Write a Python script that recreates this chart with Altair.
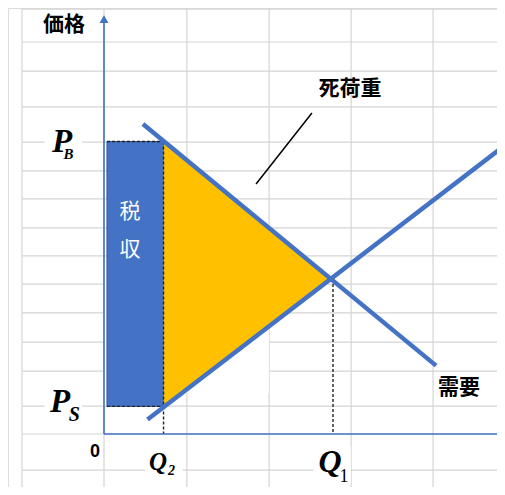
import altair as alt
import pandas as pd

# ---- data (economic units: quantity Q, price P) ----
Q1, P1 = 10.0, 5.33          # equilibrium without tax
Q2 = 2.6                     # quantity with tax
PB, PS = 10.05, 0.95         # buyer / seller price
REV_Q0 = 0.13                # left edge of tax revenue block

demand_q = [1.7, 14.5]
demand_p = [10.65, 2.35]
supply_q = [1.9, 17.8]
supply_p = [0.5, 10.1]

grid_v = [-3.58, 0, 3.62, 7.21, 10.79, 14.37]
grid_h = [14.6, 13.47, 12.47, 11.24, 10.03, 9.04, 8.08, 7.08, 6.12, 5.15,
          4.16, 3.16, 2.16, 0.96, 0, -1.24]

XMIN, XMAX = -4.1921, 17.162
YMIN, YMAX = -1.821, 14.639

BLUE = "#4472C4"
YELLOW = "#FFC000"
GRID = "#d4d4d4"
CJK = "Noto Sans CJK JP"
SERIF = "Liberation Serif"

xs = alt.Scale(domain=[XMIN, XMAX], nice=False, zero=False)
ys = alt.Scale(domain=[YMIN, YMAX], nice=False, zero=False)


def X(f="q"):
    return alt.X(f"{f}:Q", scale=xs, axis=None)


def Y(f="p"):
    return alt.Y(f"{f}:Q", scale=ys, axis=None)


# gridlines (spreadsheet cells)
gv = pd.DataFrame({"q": grid_v, "p0": [14.6] * len(grid_v), "p1": [YMIN] * len(grid_v)})
gh = pd.DataFrame({"p": grid_h, "q0": [-3.58] * len(grid_h), "q1": [XMAX] * len(grid_h)})
grid_v_layer = alt.Chart(gv).mark_rule(color=GRID, strokeWidth=1.2).encode(
    x=X(), y=Y("p0"), y2="p1:Q")
grid_h_layer = alt.Chart(gh).mark_rule(color=GRID, strokeWidth=1.2).encode(
    y=Y(), x=X("q0"), x2="q1:Q")

# white label backgrounds
boxes = pd.DataFrame({"q": [-1.77, -1.77, 2.62, 9.96], "p": [9.86, 0.82, -1.06, -1.06]})
box_layer = alt.Chart(boxes).mark_square(color="white", opacity=1, size=1400).encode(
    x=X(), y=Y())

white_area = alt.Chart(pd.DataFrame({"q0": [0.05], "q1": [7.2], "p0": [1.4], "p1": [5.2]})
                       ).mark_rect(color="white").encode(
    x=X("q0"), x2="q1:Q", y=Y("p0"), y2="p1:Q")

# tax revenue block
rev = alt.Chart(pd.DataFrame({"q0": [REV_Q0], "q1": [Q2], "p0": [PS], "p1": [PB]})
                ).mark_rect(color=BLUE, stroke="#2F5597", strokeWidth=1).encode(
    x=X("q0"), x2="q1:Q", y=Y("p0"), y2="p1:Q")

# deadweight-loss triangle
tri = alt.Chart(pd.DataFrame({"q": [Q2, Q1], "top": [PB, P1], "bot": [PS, P1]})
                ).mark_area(color=YELLOW, opacity=1).encode(
    x=X(), y=Y("top"), y2="bot:Q")

# dashed guides
dash_h = pd.DataFrame({"p": [PB, PS], "q0": [REV_Q0, REV_Q0], "q1": [Q2, Q2]})
dash_v = pd.DataFrame({"q": [Q2, Q1], "p0": [PB, P1], "p1": [0, 0]})
dash_h_layer = alt.Chart(dash_h).mark_rule(color="#222222", strokeWidth=1.4, strokeDash=[3, 2]).encode(
    y=Y(), x=X("q0"), x2="q1:Q")
dash_v_layer = alt.Chart(dash_v).mark_rule(color="#222222", strokeWidth=1.4, strokeDash=[3, 2]).encode(
    x=X(), y=Y("p0"), y2="p1:Q")

# demand & supply
dem = alt.Chart(pd.DataFrame({"q": demand_q, "p": demand_p})).mark_line(
    color=BLUE, strokeWidth=4.5, clip=True).encode(x=X(), y=Y())
sup = alt.Chart(pd.DataFrame({"q": supply_q, "p": supply_p})).mark_line(
    color=BLUE, strokeWidth=4.5, clip=True).encode(x=X(), y=Y())

# axes
xaxis = alt.Chart(pd.DataFrame({"p": [0], "q0": [0], "q1": [XMAX]})).mark_rule(
    color=BLUE, strokeWidth=1.6).encode(y=Y(), x=X("q0"), x2="q1:Q")
yaxis = alt.Chart(pd.DataFrame({"q": [0], "p0": [0], "p1": [14.2]})).mark_rule(
    color=BLUE, strokeWidth=1.6).encode(x=X(), y=Y("p0"), y2="p1:Q")
arrow = alt.Chart(pd.DataFrame({"q": [0], "p": [14.26]})).mark_point(
    shape="triangle-up", filled=True, color=BLUE, opacity=1, size=80).encode(x=X(), y=Y())

# deadweight pointer
pointer = alt.Chart(pd.DataFrame({"q": [6.64, 9.08], "p": [8.59, 11.03]})).mark_line(
    color="black", strokeWidth=1.5).encode(x=X(), y=Y())


def label(text, q, p, size, color="black", font=CJK, weight="bold", style="normal",
          baseline="middle", align="center"):
    return alt.Chart(pd.DataFrame({"q": [q], "p": [p], "t": [text]})).mark_text(
        fontSize=size, color=color, font=font, fontWeight=weight, fontStyle=style,
        baseline=baseline, align=align).encode(x=X(), y=Y(), text="t:N")


labels = [
    label("価格", -1.75, 14.05, 21),
    label("死荷重", 10.74, 11.86, 21),
    label("需要", 15.5, 1.58, 21),
    label("税", 1.14, 7.63, 21, color="white", weight="normal"),
    label("収", 1.14, 6.32, 21, color="white", weight="normal"),
    label("0", -0.39, -0.62, 18, font="Liberation Sans", weight="bold"),
    # P_B
    label("P", -1.83, 9.69, 33, font=SERIF, style="italic", baseline="alphabetic"),
    label("B", -1.55, 9.45, 15, font=SERIF, style="italic", baseline="alphabetic"),
    # P_S
    label("P", -1.92, 0.756, 33, font=SERIF, style="italic", baseline="alphabetic"),
    label("S", -1.30, 0.447, 20, font=SERIF, style="italic", baseline="alphabetic"),
    # Q2
    label("Q", 2.36, -1.237, 25, font=SERIF, style="italic", baseline="alphabetic"),
    label("2", 2.95, -1.41, 14, font=SERIF, style="italic", baseline="alphabetic"),
    # Q1
    label("Q", 9.87, -1.306, 32, font=SERIF, style="italic", baseline="alphabetic"),
    label("1", 10.48, -1.65, 18, font=SERIF, weight="normal", baseline="alphabetic"),
]

chart = alt.layer(
    grid_v_layer, grid_h_layer, box_layer, white_area, rev, tri,
    dash_h_layer, dash_v_layer, dem, sup, xaxis, yaxis, arrow, pointer, *labels
).properties(
    width=489, height=479, padding=0,
    autosize=alt.AutoSizeParams(type="none")
).configure_view(stroke=None).configure(background="white")

chart.save("out.html", embed_options={"renderer": "svg", "actions": False})
